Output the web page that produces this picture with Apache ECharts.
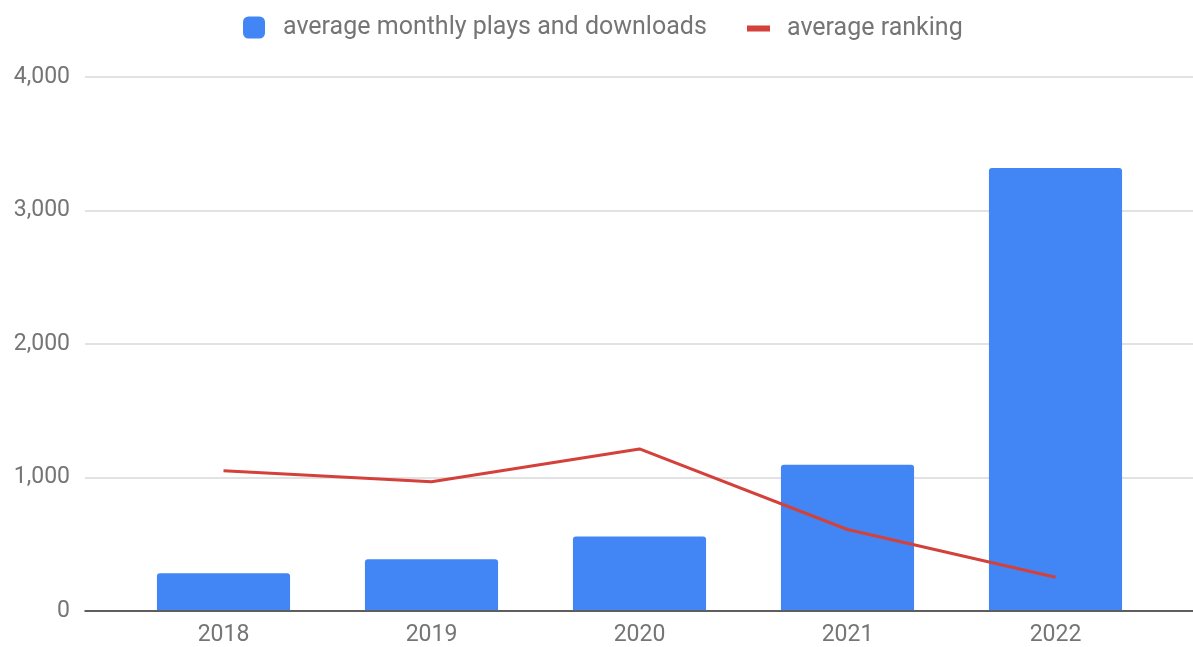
<!DOCTYPE html>
<html>
<head>
<meta charset="utf-8">
<script src="https://cdn.jsdelivr.net/npm/echarts@6/dist/echarts.min.js"></script>
<style>
html,body{margin:0;padding:0;background:#fff;}
#c{width:1193px;height:647px;}
</style>
</head>
<body>
<div id="c"></div>
<script>
const categories = ['2018', '2019', '2020', '2021', '2022'];
const playsValues = [276, 381, 552, 1090, 3318];
const rankingValues = [1045, 963, 1209, 604, 246];
const yTicks = [0, 1000, 2000, 3000, 4000];
const seriesNames = ['average monthly plays and downloads', 'average ranking'];

const FONT = 'Roboto';
const GREY = '#757575';
const RED = '#D3413A';
const chart = echarts.init(document.getElementById('c'));
chart.setOption({
  backgroundColor: '#fff',
  animation: false,
  legend: [
    {
      data: [seriesNames[0]], left: 243, top: 15, padding: 0,
      itemWidth: 22, itemHeight: 22, icon: 'roundRect',
      textStyle: { fontFamily: FONT, fontSize: 25, color: GREY, padding: [0, 0, 0, 13] }
    },
    {
      data: [seriesNames[1]], left: 747, top: 16, padding: 0,
      itemWidth: 23, itemHeight: 6, icon: 'rect',
      textStyle: { fontFamily: FONT, fontSize: 25, color: GREY, padding: [0, 0, 0, 12] }
    }
  ],
  grid: [
    { left: 85, right: 0, top: 77, bottom: 36, containLabel: false },
    { left: 119.5, right: 33.5, top: 77, bottom: 36, containLabel: false }
  ],
  xAxis: [
    {
      gridIndex: 0, type: 'value', min: 0, max: 1,
      axisLine: { show: true, lineStyle: { color: '#333', width: 1.5 } },
      axisTick: { show: false }, axisLabel: { show: false }, splitLine: { show: false }
    },
    {
      gridIndex: 1, type: 'category', data: categories,
      axisLine: { show: false }, axisTick: { show: false },
      axisLabel: { fontFamily: FONT, fontSize: 23, color: GREY, margin: 14 }
    }
  ],
  yAxis: [
    {
      gridIndex: 0, type: 'value', min: yTicks[0], max: yTicks[yTicks.length - 1], interval: 1000,
      axisLine: { show: false }, axisTick: { show: false },
      axisLabel: {
        fontFamily: FONT, fontSize: 23, color: GREY, margin: 15,
        formatter: v => v.toLocaleString('en-US')
      },
      splitLine: { lineStyle: { color: '#d9d9d9', width: 1.5 } }
    },
    {
      gridIndex: 1, type: 'value', min: yTicks[0], max: yTicks[yTicks.length - 1], interval: 1000,
      show: false, splitLine: { show: false }
    }
  ],
  series: [
    {
      name: seriesNames[0], type: 'bar', xAxisIndex: 1, yAxisIndex: 1,
      data: playsValues, barWidth: '64%',
      itemStyle: { color: '#4285F4', borderRadius: [3, 3, 0, 0] }, z: 2
    },
    {
      name: seriesNames[1], type: 'line', xAxisIndex: 1, yAxisIndex: 1,
      data: rankingValues, showSymbol: false, symbol: 'none',
      lineStyle: { color: RED, width: 3 }, itemStyle: { color: RED }, z: 3
    }
  ]
});
</script>
</body>
</html>
